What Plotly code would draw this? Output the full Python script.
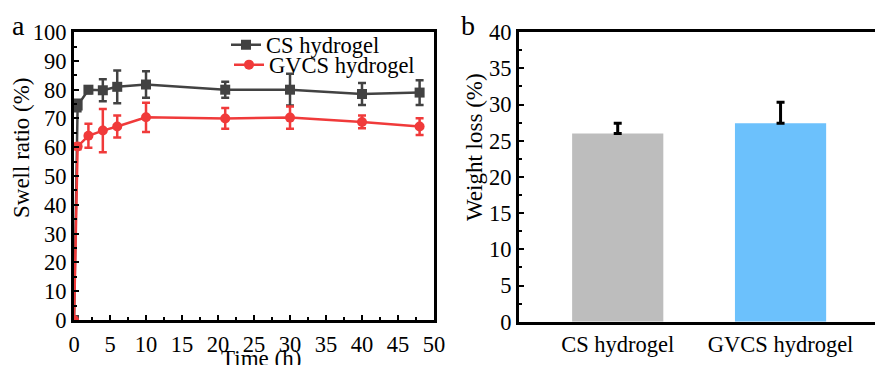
import plotly.graph_objects as go

time_h = [0, 0.5, 2, 4, 6, 10, 21, 30, 40, 48]
cs_swell = [0, 74.5, 80, 79.8, 81, 81.8, 80, 80, 78.5, 79]
cs_err = [0, 2, 1.2, 3.8, 5.7, 4.6, 2.8, 5.5, 3.8, 4.3]
gvcs_swell = [0, 60.3, 64, 65.8, 67.2, 70.4, 70, 70.3, 68.8, 67.2]
gvcs_err = [0, 1, 4.2, 7.5, 3.8, 5.1, 3.6, 3.9, 2.2, 2.9]

bar_cats = ["CS hydrogel", "GVCS hydrogel"]
bar_vals = [26.0, 27.4]
bar_errs = [1.4, 2.9]
bar_colors = ["#bdbdbd", "#6cc1fc"]

FONT = "Liberation Serif, Times New Roman, Tinos, DejaVu Serif, serif"
FS = 22.5
GRAY = "#424242"
RED = "#f03a3a"

fig = go.Figure()

fig.add_trace(go.Scatter(
    x=time_h, y=cs_swell, name="CS hydrogel", mode="lines+markers",
    line=dict(color=GRAY, width=2.5),
    marker=dict(symbol="square", size=10, color=GRAY),
    error_y=dict(type="data", array=cs_err, color=GRAY, thickness=2.5, width=4),
    xaxis="x", yaxis="y", legend="legend"))
fig.add_trace(go.Scatter(
    x=time_h, y=gvcs_swell, name="GVCS hydrogel", mode="lines+markers",
    line=dict(color=RED, width=2.5),
    marker=dict(symbol="circle", size=10, color=RED),
    error_y=dict(type="data", array=gvcs_err, color=RED, thickness=2.5, width=4),
    xaxis="x", yaxis="y", legend="legend2"))

fig.add_trace(go.Bar(
    x=bar_cats, y=bar_vals, marker=dict(color=bar_colors, line=dict(width=0)),
    width=0.56, showlegend=False,
    error_y=dict(type="data", array=bar_errs, arrayminus=[0, 0], symmetric=False,
                 color="black", thickness=3, width=4),
    xaxis="x2", yaxis="y2"))

axis_common = dict(showline=True, linecolor="black", linewidth=3, mirror=True,
                   ticks="inside", ticklen=5, tickwidth=2, tickcolor="black",
                   showgrid=False, zeroline=False,
                   tickfont=dict(family=FONT, size=FS, color="black"))

leg_common = dict(xanchor="left", yanchor="middle", bgcolor="rgba(0,0,0,0)",
                  font=dict(family=FONT, size=FS, color="black"), itemwidth=30,
                  borderwidth=0)

fig.update_layout(
    width=875, height=365,
    margin=dict(l=0, r=0, t=0, b=0, autoexpand=False),
    paper_bgcolor="white", plot_bgcolor="white",
    font=dict(family=FONT, size=FS, color="black"),
    showlegend=True,
    legend=dict(x=226 / 875, y=1 - 45 / 365, **leg_common),
    legend2=dict(x=229 / 875, y=1 - 65 / 365, **leg_common),
    xaxis=dict(domain=[0.0846, 0.496], range=[0, 50], dtick=5, ticklabelstandoff=2,
               minor=dict(ticks="inside", ticklen=3, tickwidth=1.5, dtick=2.5, tickcolor="black"),
               **axis_common),
    yaxis=dict(domain=[0.1233, 0.912], range=[0, 100], dtick=10,
               minor=dict(ticks="inside", ticklen=3, tickwidth=1.5, dtick=5, tickcolor="black"),
               **axis_common),
    xaxis2=dict(domain=[0.593, 1.0], range=[-0.607, 1.58], anchor="y2",
                showline=True, linecolor="black", linewidth=3, mirror=True,
                ticks="", showgrid=False, zeroline=False,
                tickfont=dict(family=FONT, size=FS, color="black")),
    yaxis2=dict(domain=[0.1186, 0.912], range=[0, 40], dtick=5, anchor="x2",
                showline=True, linecolor="black", linewidth=3, mirror=False,
                ticks="inside", ticklen=5, tickwidth=2, tickcolor="black",
                minor=dict(ticks="inside", ticklen=3, tickwidth=1.5, dtick=2.5, tickcolor="black"),
                showgrid=False, zeroline=False,
                tickfont=dict(family=FONT, size=FS, color="black")),
)

annots = [
    dict(text="a", x=18 / 875, y=1 - 25 / 365, size=28),
    dict(text="b", x=468 / 875, y=1 - 25 / 365, size=28),
    dict(text="Swell ratio (%)", x=21 / 875, y=1 - 148 / 365, textangle=-90, size=23),
    dict(text="Weight loss (%)", x=474 / 875, y=1 - 147 / 365, textangle=-90, size=23),
    dict(text="Time (h)", x=261 / 875, y=1 - 358 / 365, size=23),
]
for a in annots:
    fig.add_annotation(xref="paper", yref="paper", showarrow=False,
                       xanchor="center", yanchor="middle",
                       text=a["text"], x=a["x"], y=a["y"],
                       textangle=a.get("textangle", 0),
                       font=dict(family=FONT, color="black", size=a["size"]))

fig.write_html("out.html", config={"displayModeBar": False},
               post_script="document.body.style.margin='0';document.body.style.overflow='hidden';")
